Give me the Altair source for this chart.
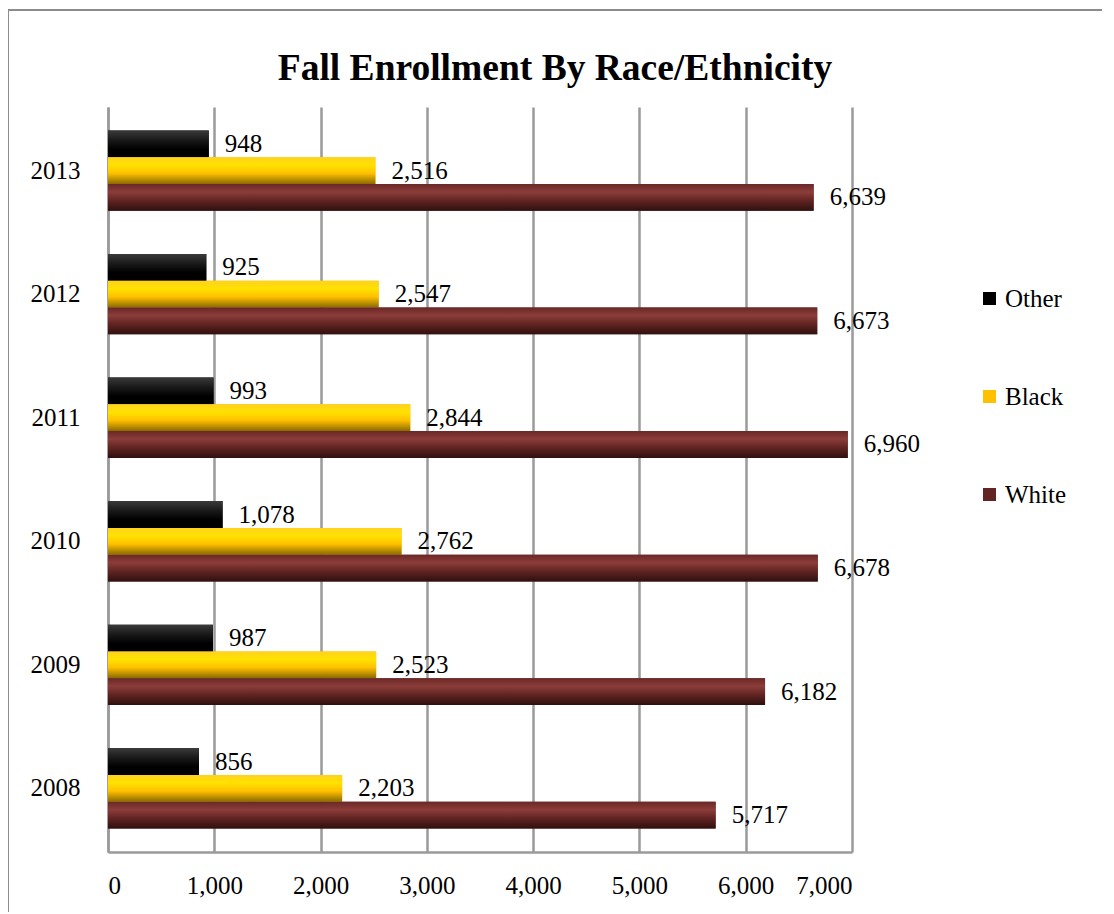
import altair as alt
import pandas as pd

years = ["2008", "2009", "2010", "2011", "2012", "2013"]
other = [856, 987, 1078, 993, 925, 948]
black = [2203, 2523, 2762, 2844, 2547, 2516]
white = [5717, 6182, 6678, 6960, 6673, 6639]
series = ["Other", "Black", "White"]
colors = ["#000000", "#FFC000", "#632523"]
x_ticks = [0, 1000, 2000, 3000, 4000, 5000, 6000, 7000]

rows = []
for i, yr in enumerate(years):
    rows.append({"Year": yr, "Series": "Other", "Value": other[i]})
    rows.append({"Year": yr, "Series": "Black", "Value": black[i]})
    rows.append({"Year": yr, "Series": "White", "Value": white[i]})
df = pd.DataFrame(rows)

FONT = "Liberation Serif"
FS = 25
year_order = list(reversed(years))

x_enc = alt.X("Value:Q", scale=alt.Scale(domain=[0, 7000], nice=False),
              axis=alt.Axis(values=x_ticks, format=",.0f", title=None))
y_enc = alt.Y("Year:N", sort=year_order,
              scale=alt.Scale(paddingInner=0.35, paddingOuter=0.19),
              axis=alt.Axis(title=None, grid=False))
yoff = alt.YOffset("Series:N", scale=alt.Scale(domain=series, paddingInner=0, paddingOuter=0))

base = alt.Chart(df).encode(x=x_enc, y=y_enc, yOffset=yoff)

bars = base.mark_bar().encode(
    color=alt.Color("Series:N", scale=alt.Scale(domain=series, range=colors),
                    legend=alt.Legend(title=None, orient="none", legendX=869, legendY=179)),
)

grads = {
    "Other": [("#3a3a3a", 0), ("#1a1a1a", 0.35), ("#000000", 0.7), ("#000000", 1)],
    "Black": [("#FFD21F", 0), ("#FFE200", 0.3), ("#FFC000", 0.6), ("#8a6a00", 1)],
    "White": [("#6a2826", 0), ("#8c3d3a", 0.3), ("#632523", 0.6), ("#2f100f", 1)],
}
overlays = []
for s in series:
    g = alt.Gradient(gradient="linear", x1=0, y1=0, x2=0, y2=1,
                     stops=[alt.GradientStop(color=c, offset=o) for c, o in grads[s]])
    overlays.append(base.mark_bar(color=g).transform_filter(alt.datum.Series == s))

labels = base.mark_text(align="left", baseline="middle", dx=16, font=FONT,
                        fontSize=FS, color="black").encode(
    text=alt.Text("Value:Q", format=",")
)

frame_left = alt.Chart(df).mark_rule(color="#8c8c8c", strokeWidth=2).encode(
    x=alt.value(-100), y=alt.value(-97), y2=alt.value(900))
frame_top = alt.Chart(df).mark_rule(color="#8c8c8c", strokeWidth=2).encode(
    x=alt.value(-100), x2=alt.value(1100), y=alt.value(-97))

chart = alt.layer(bars, *overlays, labels, frame_left, frame_top).properties(
    width=744, height=745,
    title=alt.Title("Fall Enrollment By Race/Ethnicity"),
    autosize=alt.AutoSizeParams(type="none"),
    padding={"left": 100, "top": 99, "right": 250, "bottom": 60},
).configure(font=FONT).configure_view(stroke=None).configure_axis(
    labelFont=FONT, labelFontSize=FS, labelColor="black", ticks=False,
    domainColor="#9a9a9a", domainWidth=2.5, gridColor="#9a9a9a", gridWidth=2.5,
).configure_axisX(
    labelPadding=21, grid=True
).configure_axisY(
    labelPadding=28
).configure_legend(
    labelFont=FONT, labelFontSize=FS, labelColor="black",
    symbolType="square", symbolSize=169, symbolStrokeWidth=0,
    rowPadding=72, labelOffset=3,
).configure_title(
    font=FONT, fontSize=37.5, fontWeight="bold", color="black", dx=75, offset=-78,
)

chart.save("out.html", embed_options={"renderer": "svg", "actions": False})
